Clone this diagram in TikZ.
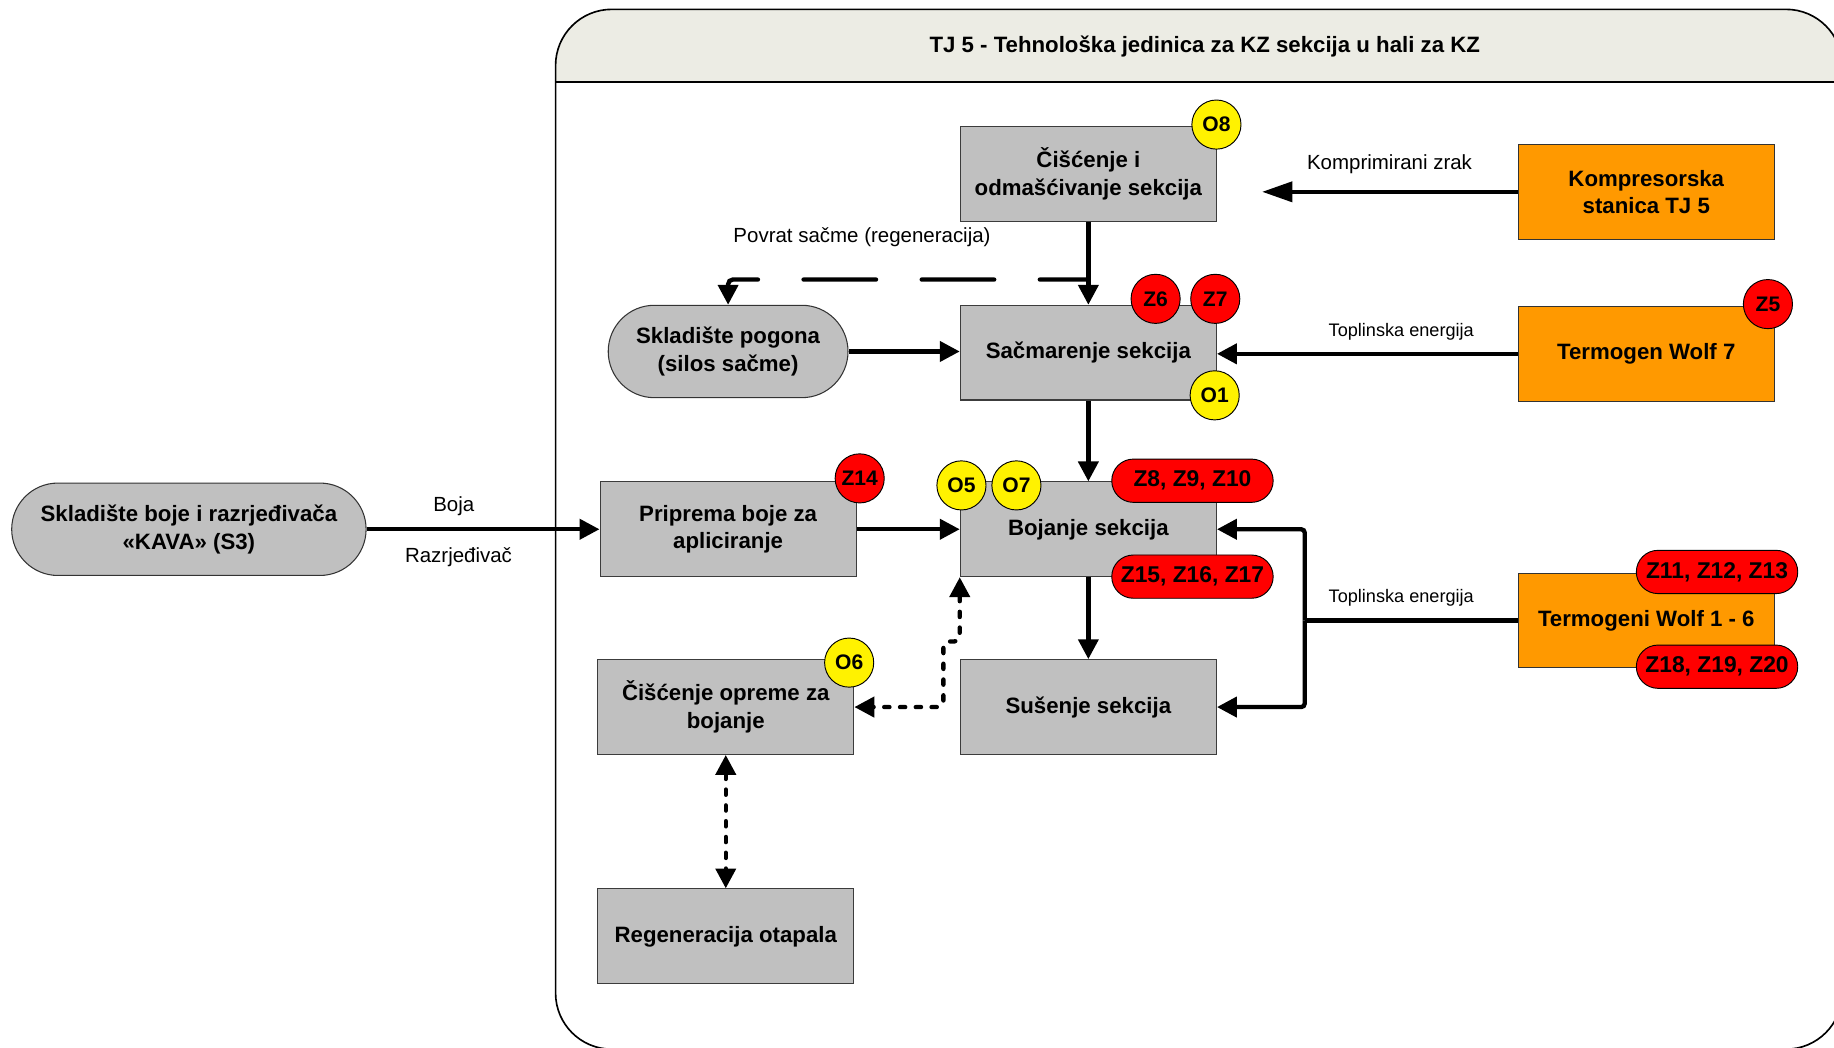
\documentclass[tikz,border=0pt]{standalone}
\usepackage{fontspec}
\setmainfont{Liberation Sans}
\usetikzlibrary{arrows.meta,shapes.misc}

\definecolor{boxgray}{RGB}{192,192,192}
\definecolor{heatorange}{RGB}{255,153,0}
\definecolor{headfill}{RGB}{236,236,228}
\definecolor{edgegray}{RGB}{60,60,60}

\tikzset{
  unitbox/.style={rectangle, draw=edgegray, line width=0.9pt, fill=boxgray,
    minimum width=219pt, minimum height=81pt, inner sep=2pt, align=center,
    font=\fontsize{19}{23.5}\selectfont\bfseries},
  supplybox/.style={unitbox, fill=heatorange, draw=black!80},
  storebox/.style={rounded rectangle, draw=black!80, line width=0.9pt, fill=boxgray,
    minimum height=79pt, inner sep=2pt, align=center,
    font=\fontsize{19}{23.5}\selectfont\bfseries},
  emis/.style={circle, draw=black, line width=0.8pt, fill=red, minimum size=42pt,
    inner sep=0pt, font=\fontsize{18}{20}\selectfont\bfseries},
  waste/.style={emis, fill=yellow},
  emispill/.style={rounded rectangle, draw=black, line width=0.8pt, fill=red,
    minimum width=138pt, minimum height=37pt, inner sep=0pt,
    font=\fontsize{19.5}{22}\selectfont\bfseries},
  flow/.style={line width=3.7pt, -{Triangle[length=17pt,width=17pt]}},
  longflow/.style={line width=3.7pt, -{Triangle[length=26pt,width=17pt]}},
  busline/.style={line width=3.7pt},
  returnline/.style={line width=3.7pt, line cap=round, rounded corners=4pt,
    dash pattern=on 62pt off 39pt, dash phase=20.5pt,
    -{Triangle[length=17pt,width=17pt]}},
  dotline/.style={line width=3.7pt, line cap=round, rounded corners=5pt,
    dash pattern=on 4.5pt off 9pt,
    {Triangle[length=17pt,width=17pt]}-{Triangle[length=17pt,width=17pt]}},
  flowlabel/.style={font=\fontsize{17.5}{20}\selectfont, inner sep=0pt},
  heatlabel/.style={font=\fontsize{15.5}{18}\selectfont, inner sep=0pt},
}

\begin{document}
\begin{tikzpicture}[x=1pt, y=-1pt]
\useasboundingbox (0,0) rectangle (1568,896);
\clip (0,0) rectangle (1568,896);

% technological unit frame with its title band
\begin{scope}
  \clip (0,0) rectangle (1568,70);
  \fill[headfill, rounded corners=48pt] (475,897) -- (475,8) -- (1575,8) -- (1575,897) -- cycle;
\end{scope}
\draw[line width=1.4pt] (475,70) -- (1575,70);
\draw[line width=1.4pt, rounded corners=48pt] (475,897) -- (475,8) -- (1575,8) -- (1575,897) -- cycle;
\node[font=\fontsize{19}{22}\selectfont\bfseries] (title) at (1030,40)
  {TJ 5 - Tehnološka jedinica za KZ sekcija u hali za KZ};

% process units
\node[unitbox] (clean) at (930.5,148.5) {Čišćenje i\\odmašćivanje sekcija};
\node[unitbox] (shot)  at (930.5,301.5) {Sačmarenje sekcija};
\node[unitbox] (paint) at (930.5,452.5) {Bojanje sekcija};
\node[unitbox] (dry)   at (930.5,604.5) {Sušenje sekcija};
\node[unitbox] (prep)  at (622.5,452.5) {Priprema boje za\\apliciranje};
\node[unitbox] (cleq)  at (620.5,604.5) {Čišćenje opreme za\\bojanje};
\node[unitbox] (regen) at (620.5,800.5) {Regeneracija otapala};

% storages
\node[storebox, minimum width=209pt] (silo)  at (622.5,300.5) {Skladište pogona\\(silos sačme)};
\node[storebox, minimum width=307pt] (store) at (161.5,452.5) {Skladište boje i razrjeđivača\\«KAVA» (S3)};

% supply units
\node[supplybox] (komp)   at (1407.5,164)   {Kompresorska\\stanica TJ 5};
\node[supplybox] (wolf7)  at (1407.5,302.5) {Termogen Wolf 7};
\node[supplybox] (wolf16) at (1407.5,530.5) {Termogeni Wolf 1 - 6};

% compressed air
\coordinate (airend) at (1079,164);
\draw[longflow] (komp.west) -- (airend);
\node[flowlabel] (airlbl) at (1188,140) {Komprimirani zrak};

% main flow of sections
\draw[flow] (clean.south) -- (shot.north);
\draw[flow] (shot.south) -- (paint.north);
\draw[flow] (paint.south) -- (dry.north);
\draw[flow] (silo.east) -- (silo.east -| shot.west);
\draw[flow] (prep.east) -- (paint.west);
\draw[flow] (store.east) -- (store.east -| prep.west);
\node[flowlabel] (boja) at (388,433) {Boja};
\node[flowlabel] (razr) at (392,476) {Razrjeđivač};

% shot return to the silo
\coordinate (ret) at (930.5,239);
\draw[returnline] (ret) -| (silo.north);
\node[flowlabel] (retlbl) at (737,203) {Povrat sačme (regeneracija)};

% heat supply
\draw[flow] (wolf7.west) -- (wolf7.west -| shot.east);
\node[heatlabel] (heat1) at (1198,284) {Toplinska energija};
\coordinate (bus) at (1115.5,530.5);
\draw[busline] (wolf16.west) -- (bus);
\draw[flow, rounded corners=3pt] (bus) |- (paint.east);
\draw[flow, rounded corners=3pt] (bus) |- (dry.east);
\node[heatlabel] (heat2) at (1198,511) {Toplinska energija};

% equipment cleaning and solvent regeneration
\draw[dotline] (paint.south west) -- ++(0,55) -- ++(-14,0) |- (cleq.east);
\draw[dotline] (cleq.south) -- (regen.north);

% emission points and waste markers
\node[waste] (o8) at (1040,106.5) {O8};
\node[emis]  (z6) at (988,255.5) {Z6};
\node[emis]  (z7) at (1039,255.5) {Z7};
\node[waste] (o1) at (1038.5,338) {O1};
\node[emis]  (z5) at (1511.5,260) {Z5};
\node[emis]  (z14) at (735,409) {Z14};
\node[waste] (o5) at (822,415) {O5};
\node[waste] (o7) at (869,415) {O7};
\node[waste] (o6) at (726,566.5) {O6};
\node[emispill] (z8)  at (1019.5,411) {Z8, Z9, Z10};
\node[emispill] (z15) at (1019.5,493) {Z15, Z16, Z17};
\node[emispill] (z11) at (1468,489) {Z11, Z12, Z13};
\node[emispill] (z18) at (1468,570) {Z18, Z19, Z20};
\end{tikzpicture}
\end{document}
